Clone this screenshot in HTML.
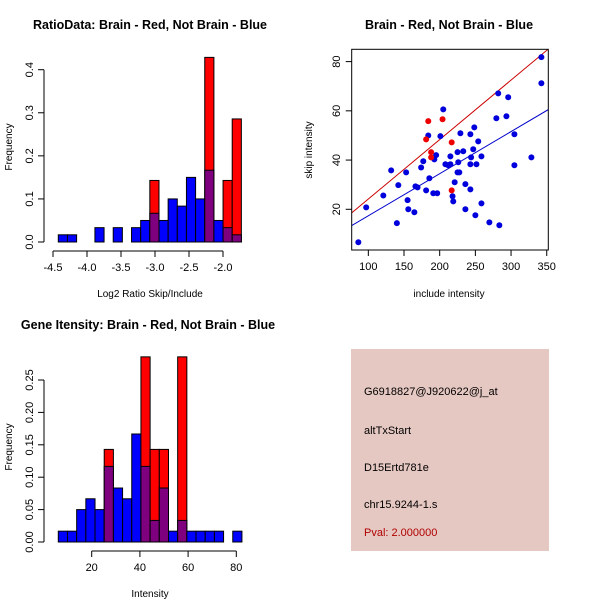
<!DOCTYPE html>
<html><head><meta charset="utf-8"><style>
body{margin:0;background:#fff}
svg{display:block;font-family:"Liberation Sans",sans-serif}
</style></head><body>
<svg id="c" width="600" height="600" viewBox="0 0 600 600">
<rect width="600" height="600" fill="#fff"/>
<g id="p1"></g>
<g id="p2"></g>
<g id="p3"></g>
<g>
<rect x="351" y="349" width="198" height="202" fill="#e6c8c2"/>
<g font-size="11" fill="#000">
<text x="364" y="395">G6918827@J920622@j_at</text>
<text x="364" y="434">altTxStart</text>
<text x="364" y="471">D15Ertd781e</text>
<text x="364" y="508">chr15.9244-1.s</text>
<text x="364" y="536" fill="#b00000">Pval: 2.000000</text>
</g></g>
</svg>
<script>
// ---------- data ----------
const ratioStart = -4.422, ratioWidth = 0.1346;
const ratioBlue = [0.0167,0.0167,0,0,0.0333,0,0.0333,0,0.0333,0.05,0.0667,0.05,0.1,0.0833,0.15,0.1,0.1667,0.05,0.0333,0.0167];
const ratioRed  = [0,0,0,0,0,0,0,0,0,0,0.1429,0,0,0,0,0,0.4286,0,0.1429,0.2857];
const ratioXTicks = [-4.5,-4.0,-3.5,-3.0,-2.5,-2.0];
const ratioXLabels = ["-4.5","-4.0","-3.5","-3.0","-2.5","-2.0"];
const ratioYTicks = [0,0.1,0.2,0.3,0.4];
const ratioYLabels = ["0.0","0.1","0.2","0.3","0.4"];

const intStart = 6.14, intWidth = 3.81;
const intBlue = [0.0167,0.0167,0.05,0.0667,0.05,0.1167,0.0833,0.0667,0.1667,0.1167,0.0333,0.0833,0.0167,0.0333,0.0167,0.0167,0.0167,0.0167,0,0.0167];
const intRed  = [0,0,0,0,0,0.1429,0,0,0,0.2857,0.1429,0.1429,0,0.2857,0,0,0,0,0,0];
const intXTicks = [20,40,60,80];
const intXLabels = ["20","40","60","80"];
const intYTicks = [0,0.05,0.1,0.15,0.2,0.25];
const intYLabels = ["0.00","0.05","0.10","0.15","0.20","0.25"];

const blueX = [86,97,121,132,140,142,153,155,156,164.5,166,169,174,177,181,184,185.5,191,192.5,195,196.5,201,205,208,212,215,215,218,219,221,225,225,226,227.5,229,233,236,236,243,243,243,244,247,248.5,251.5,250,254,258.5,258.5,269.6,279.4,282,283.6,293.5,296,304.7,304.7,328.5,342.5,342.5];
const blueY = [6.6,20.8,25.6,35.8,14.4,29.8,35,23.7,20,18.8,29.3,28.9,37,39.5,27.7,50,32.6,26.5,40.3,42,26.5,49.7,60.6,38.3,37.9,41.5,38.3,25.3,23.2,31,35,43.2,39.1,35,50.9,43.6,30.2,20,28.1,50.5,38.3,41.1,44.4,53.3,38.3,17.6,47.6,41.5,22.4,14.7,57,67.1,13.5,57.8,65.5,50.5,37.9,41.1,71.2,81.8];
const redX = [181,184,188,188,204,216.8,216.8];
const redY = [48.4,55.8,43.2,41.1,56.6,47.2,27.7];
const fitSlopes = [0.2416,0.171];
const fitIntercepts = [0,0.27];
const scXTicks = [100,150,200,250,300,350];
const scYTicks = [20,40,60,80];

// ---------- helpers ----------
const NS = "http://www.w3.org/2000/svg";
function mk(parent, tag, attrs, txt){
  const e = document.createElementNS(NS, tag);
  for (const k in attrs) e.setAttribute(k, attrs[k]);
  if (txt !== undefined) e.textContent = txt;
  parent.appendChild(e);
  return e;
}
function lin(d0,d1,r0,r1){return v=>r0+(v-d0)*(r1-r0)/(d1-d0);}

function histPanel(g, o){
  const x = lin(o.xd[0],o.xd[1],o.xr[0],o.xr[1]);
  const y = lin(0,o.yd1,o.y0,o.y1);
  const t = mk(g,'text',{x:o.tx,y:o.ty,'font-size':12.5,'font-weight':'bold','text-anchor':'middle'},o.title);
  
  
  for (let i=0;i<o.blue.length;i++){
    const xa = x(o.start+i*o.width), xb = x(o.start+(i+1)*o.width);
    const b = o.blue[i], r = o.red[i];
    if (r>0){
      const rr = mk(g,'rect',{x:xa,y:y(r),width:xb-xa,height:y(0)-y(r),fill:'#ff0000',stroke:'#000','stroke-width':1});
      
      
    }
    if (b>0){
      const col = (r>0) ? '#7f007f' : '#0000ff';
      const bb = mk(g,'rect',{x:xa,y:y(b),width:xb-xa,height:y(0)-y(b),fill:col,stroke:'#000','stroke-width':1});
      
      
    }
  }
  const xa0 = x(o.xt[0]), xa1 = x(o.xt[o.xt.length-1]);
  mk(g,'line',{x1:xa0,x2:xa1,y1:o.axY,y2:o.axY,stroke:'#000'});
  o.xt.forEach((v,i)=>{
    mk(g,'line',{x1:x(v),x2:x(v),y1:o.axY,y2:o.axY+6,stroke:'#000'});
    const l = mk(g,'text',{x:x(v),y:o.axY+20,'font-size':11,'text-anchor':'middle'},o.xl[i]);
    
    
  });
  mk(g,'line',{x1:o.axX,x2:o.axX,y1:y(0),y2:y(o.yt[o.yt.length-1]),stroke:'#000'});
  o.yt.forEach((v,i)=>{
    mk(g,'line',{x1:o.axX-6,x2:o.axX,y1:y(v),y2:y(v),stroke:'#000'});
    const l = mk(g,'text',{x:o.axX-11,y:y(v),'font-size':11,'text-anchor':'middle',transform:`rotate(-90 ${o.axX-11} ${y(v)})`},o.yl[i]);
    
    
  });
  const xt = mk(g,'text',{x:o.xlx,y:o.xly,'font-size':10,'text-anchor':'middle'},o.xlab);
  
  
  const yt = mk(g,'text',{x:12,y:o.yly,'font-size':10,'text-anchor':'middle',transform:`rotate(-90 12 ${o.yly})`},'Frequency');
  
  
}

histPanel(document.getElementById('p1'),{
  title:'RatioData: Brain - Red, Not Brain - Blue', tx:150, ty:29,
  xd:[-4.5,-2.0], xr:[53,223], yd1:0.4, y0:242, y1:69.7,
  start:ratioStart, width:ratioWidth, blue:ratioBlue, red:ratioRed,
  xt:ratioXTicks, xl:ratioXLabels, yt:ratioYTicks, yl:ratioYLabels,
  axY:251, axX:44, xlab:'Log2 Ratio Skip/Include', xlx:150, xly:297, yly:147
});
histPanel(document.getElementById('p3'),{
  title:'Gene Itensity: Brain - Red, Not Brain - Blue', tx:148, ty:329,
  xd:[20,80], xr:[91.7,236.3], yd1:0.25, y0:542, y1:380,
  start:intStart, width:intWidth, blue:intBlue, red:intRed,
  xt:intXTicks, xl:intXLabels, yt:intYTicks, yl:intYLabels,
  axY:551, axX:44, xlab:'Intensity', xlx:150, xly:597, yly:447
});

(function(){
  const g = document.getElementById('p2');
  const x = lin(76.7,352.2,351.7,548.3), y = lin(3.46,85.0,250,49.3);
  const t = mk(g,'text',{x:449,y:29,'font-size':12.5,'font-weight':'bold','text-anchor':'middle'},'Brain - Red, Not Brain - Blue');
  
  
  const cp = mk(g,'clipPath',{id:'scclip'});
  mk(cp,'rect',{x:351.7,y:49.3,width:196.6,height:200.7});
  const fg = mk(g,'g',{'clip-path':'url(#scclip)'});
  const fitCols = ['#cc0000','#0000cc'];
  fitSlopes.forEach((s,i)=>{
    const l = mk(fg,'line',{x1:x(76.7),y1:y(fitIntercepts[i]+s*76.7),x2:x(352.2),y2:y(fitIntercepts[i]+s*352.2),stroke:fitCols[i],'stroke-width':1});
    
    
  });
  blueX.forEach((v,i)=>{
    const c = mk(g,'circle',{cx:x(v),cy:y(blueY[i]),r:3,fill:'#0000dd'});
    
    
  });
  redX.forEach((v,i)=>{
    const c = mk(g,'circle',{cx:x(v),cy:y(redY[i]),r:3,fill:'#ee0000'});
    
    
  });
  mk(g,'rect',{x:351.7,y:49.3,width:196.6,height:200.7,fill:'none',stroke:'#000'});
  scXTicks.forEach(v=>{
    mk(g,'line',{x1:x(v),x2:x(v),y1:250,y2:256,stroke:'#000'});
    const l = mk(g,'text',{x:x(v),y:270,'font-size':11,'text-anchor':'middle'},String(v));
    
    
  });
  scYTicks.forEach(v=>{
    mk(g,'line',{x1:345.7,x2:351.7,y1:y(v),y2:y(v),stroke:'#000'});
    const l = mk(g,'text',{x:340,y:y(v),'font-size':11,'text-anchor':'middle',transform:`rotate(-90 340 ${y(v)})`},String(v));
    
    
  });
  const xt = mk(g,'text',{x:449,y:297,'font-size':10,'text-anchor':'middle'},'include intensity');
  
  
  const yt = mk(g,'text',{x:312,y:150,'font-size':10,'text-anchor':'middle',transform:'rotate(-90 312 150)'},'skip intensity');
  
  
})();
</script>
</body></html>
